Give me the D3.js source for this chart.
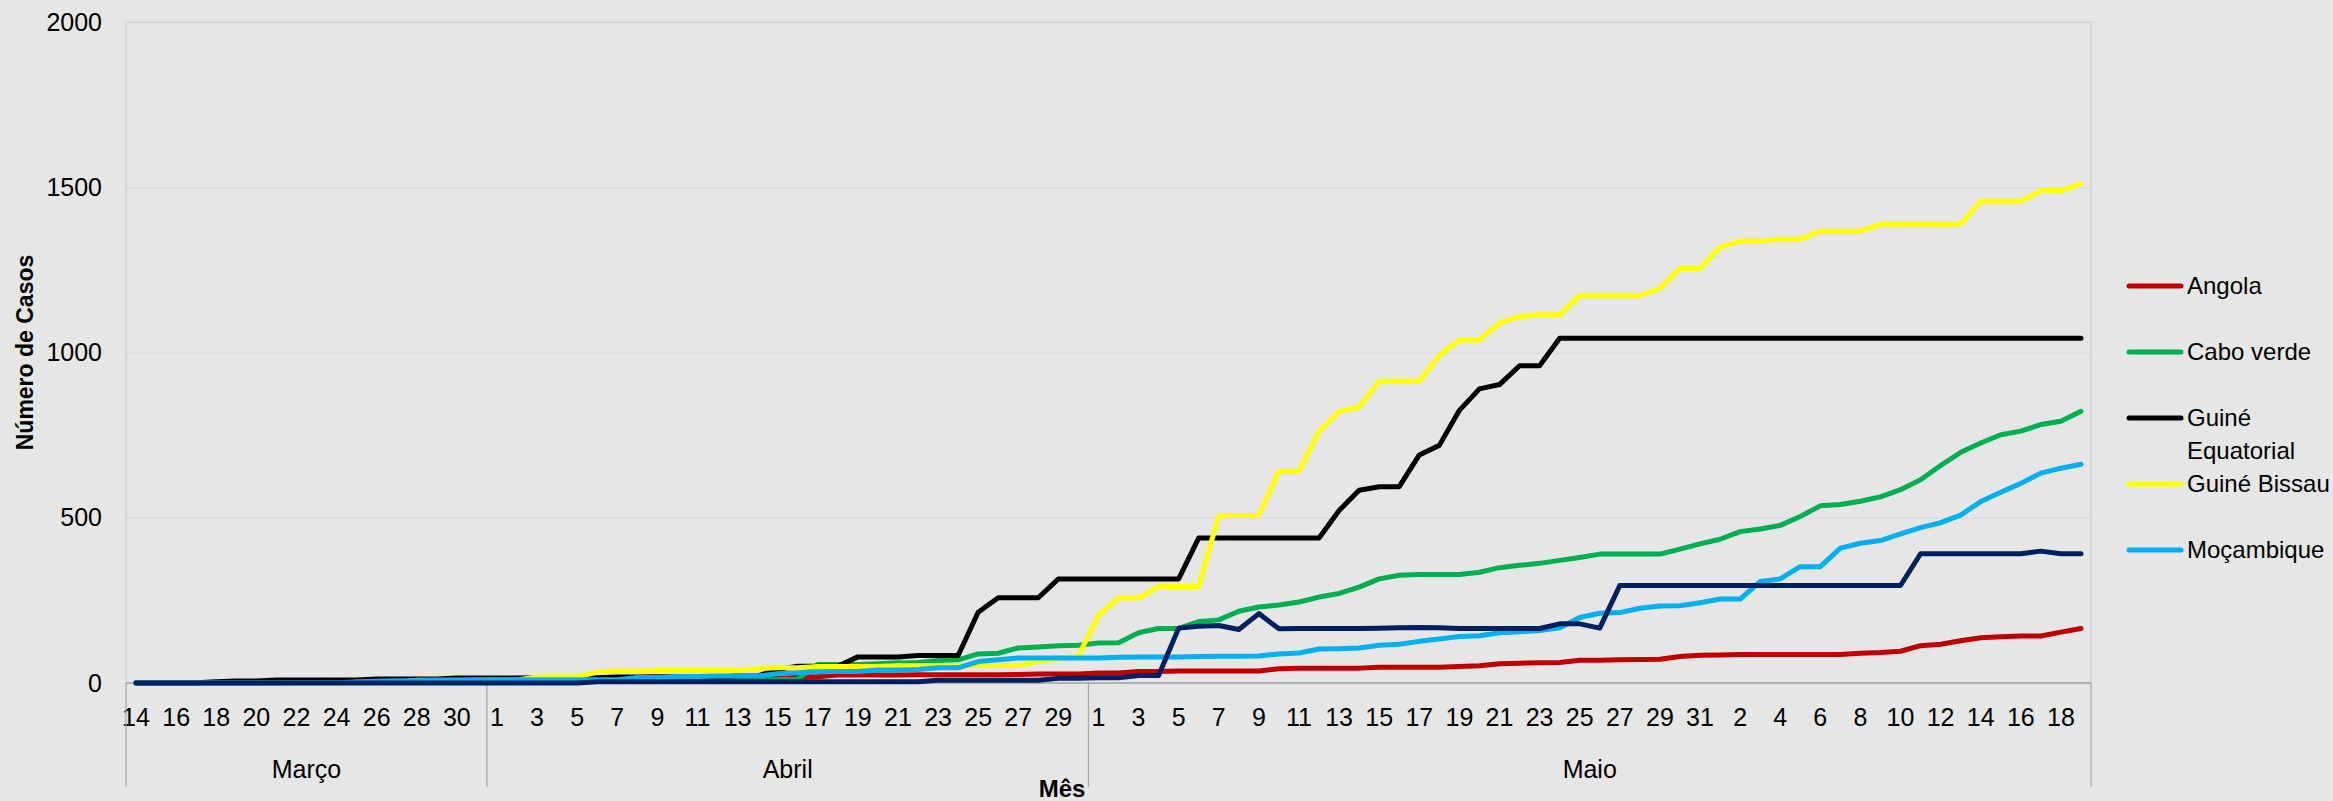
<!DOCTYPE html>
<html><head><meta charset="utf-8">
<script src="https://cdn.jsdelivr.net/npm/d3@7"></script>
<style>
html,body{margin:0;padding:0;background:#e6e6e6;}
svg{display:block;font-family:"Liberation Sans",Arial,sans-serif;}
</style>
</head><body>
<svg id="chart" width="2333" height="801"></svg>
<script>
// ---------- DATA ----------
const days = [14,15,16,17,18,19,20,21,22,23,24,25,26,27,28,29,30,31,
  1,2,3,4,5,6,7,8,9,10,11,12,13,14,15,16,17,18,19,20,21,22,23,24,25,26,27,28,29,30,
  1,2,3,4,5,6,7,8,9,10,11,12,13,14,15,16,17,18,19,20,21,22,23,24,25,26,27,28,29,30,31,
  1,2,3,4,5,6,7,8,9,10,11,12,13,14,15,16,17,18,19];
const monthNames = ["Março","Abril","Maio"];
const monthCounts = [18,30,50];

const angola = [0,0,0,0,0,0,0,2,2,2,3,3,4,4,5,7,7,7,
  8,8,8,10,14,14,16,17,19,19,19,19,19,19,19,19,19,24,24,24,24,25,25,25,25,25,26,27,27,27,
  30,30,35,35,36,36,36,36,36,43,45,45,45,45,48,48,48,48,50,52,58,60,61,62,69,69,70,71,72,80,84,
  85,86,86,86,86,86,86,90,92,96,113,117,128,137,140,142,142,154,165];
const caboVerde = [0,0,0,0,0,0,1,3,3,4,4,4,5,5,5,6,6,6,
  6,6,6,7,7,7,7,7,7,7,7,7,8,8,10,11,56,56,56,58,61,62,68,70,88,90,106,109,113,114,
  121,122,152,165,165,186,191,217,230,236,245,260,271,290,315,326,328,328,328,335,349,356,362,371,380,390,390,390,390,405,421,
  435,458,466,477,504,536,540,550,563,585,615,658,698,726,751,762,782,792,822];
const guineEquatorial = [1,1,1,1,4,6,6,9,9,9,9,9,12,12,12,12,15,15,
  15,15,16,16,16,16,18,18,18,18,18,18,21,21,41,51,51,51,79,79,79,83,83,83,214,258,258,258,315,315,
  315,315,315,315,315,439,439,439,439,439,439,439,522,583,594,594,690,719,825,890,903,960,960,1043,1043,1043,1043,1043,1043,1043,1043,
  1043,1043,1043,1043,1043,1043,1043,1043,1043,1043,1043,1043,1043,1043,1043,1043,1043,1043,1043];
const guineBissau = [0,0,0,0,0,0,0,0,0,0,0,2,2,2,8,8,8,9,
  9,9,18,18,18,33,36,36,38,38,38,38,38,43,46,46,50,50,50,50,52,52,52,53,52,53,53,65,73,82,
  205,257,257,292,292,292,507,507,507,641,641,761,821,835,913,913,913,991,1038,1038,1089,1109,1114,1114,1172,1172,1172,1172,1194,1254,1254,
  1319,1337,1337,1343,1343,1367,1367,1367,1388,1388,1388,1388,1388,1458,1458,1458,1490,1490,1510];
const mocambique = [0,0,0,0,0,0,0,0,1,1,1,3,5,7,7,8,8,8,
  10,10,10,10,10,10,10,17,17,20,20,21,21,21,28,31,34,35,35,39,39,41,46,46,65,70,76,76,76,76,
  76,78,79,79,79,80,81,81,82,88,91,103,104,106,114,117,126,133,141,143,152,155,159,167,198,211,213,226,233,234,243,
  254,254,307,315,352,352,408,423,431,451,470,485,508,549,577,604,635,650,662];
const saoTome = [0,0,0,0,0,0,0,0,0,0,0,0,0,0,0,0,0,0,
  0,0,0,0,0,4,4,4,4,4,4,4,4,4,4,4,4,4,4,4,4,4,8,8,8,8,8,8,14,14,
  16,16,23,23,166,172,174,162,210,164,165,165,165,165,166,167,168,167,165,165,165,165,165,179,179,166,295,295,295,295,295,
  295,295,295,295,295,295,295,295,295,295,391,391,391,391,391,391,399,391,391];

const seriesValues = [angola, caboVerde, guineEquatorial, guineBissau, mocambique, saoTome];
const seriesColors = ["#c00000","#00b050","#000000","#ffff00","#00b0f0","#002060"];
const legendLabels = [["Angola"],["Cabo verde"],["Guiné","Equatorial"],["Guiné Bissau"],["Moçambique"]];
const yTicks = [0,500,1000,1500,2000];

// ---------- LAYOUT ----------
const L = 126, R = 2091, T = 22, B = 683;
const svg = d3.select("#chart");
svg.append("rect").attr("width",2333).attr("height",801).attr("fill","#e6e6e6");

const x = d3.scaleBand().domain(d3.range(days.length)).range([L,R]).padding(0);
const xc = i => x(i) + x.bandwidth()/2;
const y = d3.scaleLinear().domain([0,2000]).range([B,T]);

// gridlines
const grid = svg.append("g").attr("transform",`translate(${L},0)`)
  .call(d3.axisLeft(y).tickValues(yTicks).tickSize(-(R-L)).tickFormat(""));
grid.select(".domain").remove();
grid.selectAll("line").attr("stroke","#dcdce4").attr("stroke-width",1.5);

// plot border
svg.append("rect").attr("x",L).attr("y",T).attr("width",R-L).attr("height",B-T)
  .attr("fill","none").attr("stroke","#d6d6d6").attr("stroke-width",2);

// y labels
const yAx = svg.append("g").attr("transform",`translate(${L-24},0)`)
  .call(d3.axisLeft(y).tickValues(yTicks).tickSize(0).tickPadding(0).tickFormat(d3.format("d")));
yAx.select(".domain").remove();
yAx.selectAll("text").attr("font-size",25).attr("fill","#000").attr("font-family","Liberation Sans, Arial, sans-serif");

// x axis line
svg.append("line").attr("x1",L).attr("x2",R).attr("y1",B).attr("y2",B)
  .attr("stroke","#a6a6a6").attr("stroke-width",1.5);

// day tick labels
const xAx = svg.append("g").attr("transform",`translate(0,${B})`)
  .call(d3.axisBottom(x).tickSize(0).tickPadding(25)
    .tickValues(d3.range(0,days.length,2)).tickFormat(i => days[i]));
xAx.select(".domain").remove();
xAx.selectAll("text").attr("font-size",25).attr("fill","#000").attr("font-family","Liberation Sans, Arial, sans-serif");

// month groups
let start = 0;
const bounds = [0];
monthCounts.forEach(c => { start += c; bounds.push(start); });
bounds.forEach(b => {
  const xx = b < days.length ? x(b) : R;
  svg.append("line").attr("x1",xx).attr("x2",xx).attr("y1",B).attr("y2",787)
    .attr("stroke","#a6a6a6").attr("stroke-width",1.2);
});
monthNames.forEach((m,k) => {
  const x0 = x(bounds[k]);
  const x1 = bounds[k+1] < days.length ? x(bounds[k+1]) : R;
  svg.append("text").attr("x",(x0+x1)/2).attr("y",778).attr("text-anchor","middle")
    .attr("font-size",25).attr("fill","#000").text(m);
});

// axis titles
svg.append("text").attr("x",1062).attr("y",797).attr("text-anchor","middle")
  .attr("font-size",24).attr("font-weight","bold").attr("fill","#000").text("Mês");
svg.append("text").attr("transform",`translate(33,${(T+B)/2}) rotate(-90)`)
  .attr("text-anchor","middle").attr("font-size",23).attr("font-weight","bold")
  .attr("fill","#000").text("Número de Casos");

// series
const line = d3.line().x((d,i)=>xc(i)).y(d=>y(d));
seriesValues.forEach((vals,k) => {
  svg.append("path").datum(vals).attr("d",line).attr("fill","none")
    .attr("stroke",seriesColors[k]).attr("stroke-width",5)
    .attr("stroke-linejoin","round").attr("stroke-linecap","round");
});

// legend
legendLabels.forEach((lab,k) => {
  const ly = 286 + k*66;
  svg.append("line").attr("x1",2129).attr("x2",2181).attr("y1",ly).attr("y2",ly)
    .attr("stroke",seriesColors[k]).attr("stroke-width",5).attr("stroke-linecap","round");
  lab.forEach((t,j) => {
    svg.append("text").attr("x",2187).attr("y",ly + j*33).attr("dy","0.35em")
      .attr("font-size",24).attr("fill","#000").text(t);
  });
});
</script>
</body></html>
